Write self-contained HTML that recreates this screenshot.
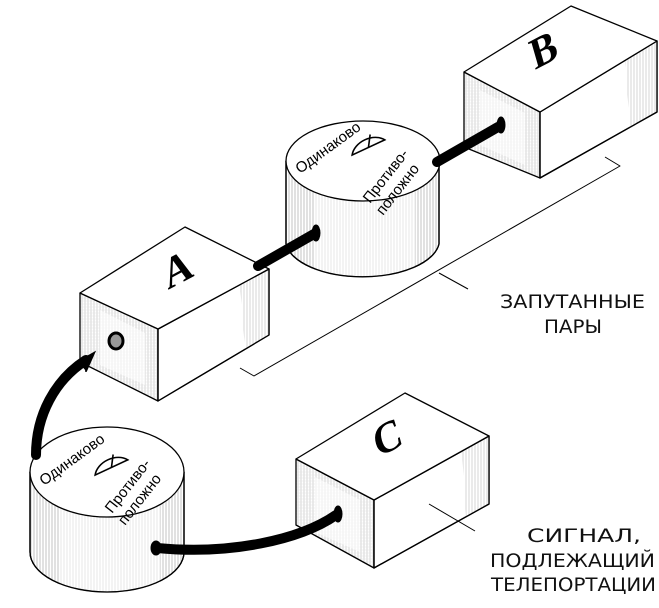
<!DOCTYPE html>
<html><head><meta charset="utf-8"><style>
html,body{margin:0;padding:0;background:#fff;}
svg{display:block}
.t{font-family:"Liberation Sans Narrow","Liberation Sans","DejaVu Sans",sans-serif;font-size:15px;fill:#000}
.lbl{font-family:"DejaVu Sans","Liberation Sans",sans-serif;font-size:19px;fill:#111}
.big{font-family:"Liberation Serif",serif;font-weight:bold;font-size:42px;fill:#000}
</style></head><body>
<svg width="659" height="608" viewBox="0 0 659 608" xmlns="http://www.w3.org/2000/svg">
<defs>
<pattern id="v" width="3" height="4" patternUnits="userSpaceOnUse"><rect width="3" height="4" fill="#fff"/><line x1="1" y1="0" x2="1" y2="4" stroke="#aaa" stroke-width="0.7"/></pattern>
<pattern id="g" width="3" height="3" patternUnits="userSpaceOnUse"><rect width="3" height="3" fill="#fff"/><line x1="1" y1="0" x2="1" y2="3" stroke="#bbb" stroke-width="0.6"/><line x1="0" y1="1" x2="3" y2="1" stroke="#ddd" stroke-width="0.4"/></pattern>
</defs>
<g stroke="#000" stroke-width="1.3" stroke-linejoin="round">
<polyline points="605,157 620,166 254,376 240,368" fill="none" stroke-width="1"/>
<line x1="439" y1="273" x2="468" y2="289" stroke-width="1"/>

<polygon points="464,72 540,112 540,178 464,147" fill="url(#g)"/>
<polygon points="480,90 525,113 525,165 480,145" fill="#fff" stroke="none" opacity="0.6"/>
<polygon points="540,112 657,41 657,112 540,178" fill="#fff"/>
<polygon points="625,61 657,41 657,112 630,128" fill="url(#v)" stroke="none" opacity="0.7"/>
<polygon points="540,112 657,41 657,112 540,178" fill="none"/>
<polygon points="464,72 571,6 657,41 540,112" fill="#fff"/>

<path d="M286,161 L286,244 A77,37 0 0 0 439,244 L439,161 Z" fill="url(#v)"/>
<path d="M315,175 L315,272 A77,37 0 0 0 415,272 L415,175 Z" fill="#fff" stroke="none" opacity="0.6"/>
<path d="M286,161 L286,244 A77,37 0 0 0 439,244 L439,161" fill="none"/>
<ellipse cx="363" cy="161" rx="77" ry="40" fill="#fff"/>

<polygon points="80,293 158,329 158,401 80,362" fill="url(#g)"/>
<polygon points="100,310 145,333 145,385 100,365" fill="#fff" stroke="none" opacity="0.6"/>
<polygon points="158,329 269,269 269,335 158,401" fill="#fff"/>
<polygon points="240,285 269,269 269,335 245,349" fill="url(#v)" stroke="none" opacity="0.7"/>
<polygon points="158,329 269,269 269,335 158,401" fill="none"/>
<polygon points="80,293 185,227 269,269 158,329" fill="#fff"/>
<ellipse cx="116" cy="341" rx="7" ry="8" fill="#999" stroke-width="3"/>

<path d="M30,472 L30,552 A77,40 0 0 0 184,552 L184,472 Z" fill="url(#v)"/>
<path d="M60,490 L60,585 A77,40 0 0 0 160,585 L160,490 Z" fill="#fff" stroke="none" opacity="0.6"/>
<path d="M30,472 L30,552 A77,40 0 0 0 184,552 L184,472" fill="none"/>
<ellipse cx="107" cy="472" rx="77" ry="45" fill="#fff"/>

<polygon points="296,459 374,500 374,568 296,525" fill="url(#g)"/>
<polygon points="315,477 360,500 360,552 315,532" fill="#fff" stroke="none" opacity="0.6"/>
<polygon points="374,500 489,436 489,504 374,568" fill="#fff"/>
<polygon points="462,451 489,436 489,504 466,517" fill="url(#v)" stroke="none" opacity="0.7"/>
<polygon points="374,500 489,436 489,504 374,568" fill="none"/>
<polygon points="296,459 405,393 489,436 374,500" fill="#fff"/>
<line x1="429" y1="504" x2="475" y2="531" stroke-width="1"/>
</g>

<g stroke="#000" fill="none" stroke-linecap="round">
<line x1="258" y1="266" x2="314" y2="234" stroke-width="10"/>
<ellipse cx="316" cy="233" rx="4" ry="8" fill="#000" stroke-width="1"/>
<line x1="437" y1="162" x2="498" y2="127" stroke-width="10"/>
<ellipse cx="501" cy="125" rx="4" ry="8" fill="#000" stroke-width="1"/>
<path d="M36,455 C36,415 55,380 86,360" stroke-width="10"/>
<path d="M78,362 L94,353 L86,371" fill="#000" stroke-width="2"/>
<path d="M157,548 C230,555 300,540 336,515" stroke-width="10"/>
<ellipse cx="338" cy="514" rx="4" ry="8" fill="#000" stroke-width="1"/>
<ellipse cx="156" cy="548" rx="5" ry="7" fill="#000" stroke-width="1"/>
</g>

<text class="big" transform="translate(168,290) rotate(-28) skewX(-12)">A</text>
<text class="big" transform="translate(535,70) rotate(-28) skewX(-12)">B</text>
<text class="big" transform="translate(378,458) rotate(-28) skewX(-12)">C</text>

<text class="t" transform="translate(300,174) rotate(-36)">Одинаково</text>
<g transform="translate(363,150) rotate(-25)" fill="none" stroke="#000" stroke-width="1.6"><path d="M-12,0 A20,15 0 0 1 24,0 Z"/><line x1="6" y1="0" x2="13" y2="-11"/></g>
<text class="t" transform="translate(370,204) rotate(-52)">Противо-</text>
<text class="t" transform="translate(383,216) rotate(-52)">положно</text>

<text class="t" transform="translate(44,486) rotate(-36)">Одинаково</text>
<g transform="translate(106,470) rotate(-25)" fill="none" stroke="#000" stroke-width="1.6"><path d="M-12,0 A20,15 0 0 1 24,0 Z"/><line x1="6" y1="0" x2="13" y2="-11"/></g>
<text class="t" transform="translate(112,514) rotate(-52)">Противо-</text>
<text class="t" transform="translate(125,526) rotate(-52)">положно</text>

<text class="lbl" x="500" y="308" textLength="145" lengthAdjust="spacingAndGlyphs">ЗАПУТАННЫЕ</text>
<text class="lbl" x="544" y="333" textLength="58" lengthAdjust="spacingAndGlyphs">ПАРЫ</text>
<text class="lbl" x="527" y="542" textLength="114" lengthAdjust="spacingAndGlyphs">СИГНАЛ,</text>
<text class="lbl" x="490" y="567" textLength="165" lengthAdjust="spacingAndGlyphs">ПОДЛЕЖАЩИЙ</text>
<text class="lbl" x="491" y="591" textLength="165" lengthAdjust="spacingAndGlyphs">ТЕЛЕПОРТАЦИИ</text>
</svg>
</body></html>
